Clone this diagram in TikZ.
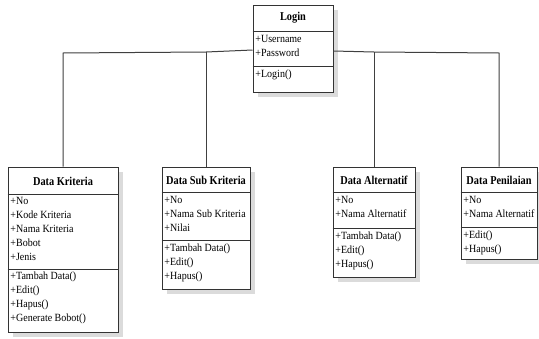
\documentclass[tikz,border=0pt]{standalone}
\usepackage{fontspec}
\setmainfont{Liberation Serif}
\usetikzlibrary{shadows}
\begin{document}
\begin{tikzpicture}[x=1pt,y=-1pt,
  classbox/.style={draw=black!80,line width=1pt,fill=white,rectangle,inner sep=0pt,
    drop shadow={shadow xshift=4.5pt,shadow yshift=-4.5pt,fill=black!14,opacity=1}},
  classtitle/.style={font=\fontsize{12}{14}\selectfont\bfseries,inner sep=0pt,
    transform shape,xscale=0.86},
  members/.style={font=\fontsize{11}{14}\selectfont,align=left,anchor=north west,
    inner xsep=2.5pt,inner ysep=3pt,transform shape,xscale=0.91},
  sep/.style={draw=black!80,line width=1pt},
  link/.style={draw=black!75,line width=1pt}]
\useasboundingbox[fill=white] (0,0) rectangle (539,338);

% Login class
\node[classbox,minimum width=80pt,minimum height=87pt] (login) at (293,48.5) {};
\node[classtitle] (login-t) at (293,18) {Login};
\draw[sep] (login.west |- 0,31) -- (login.east |- 0,31);
\draw[sep] (login.west |- 0,66) -- (login.east |- 0,66);
\node[members] (login-a) at (253,32) {+Username\\+Password};
\node[members] (login-m) at (253,67) {+Login()};

% Data Kriteria class
\node[classbox,minimum width=110pt,minimum height=165pt] (krit) at (63,249.5) {};
\node[classtitle] (krit-t) at (63,181) {Data Kriteria};
\draw[sep] (krit.west |- 0,194) -- (krit.east |- 0,194);
\draw[sep] (krit.west |- 0,269) -- (krit.east |- 0,269);
\node[members] (krit-a) at (8,194) {+No\\+Kode Kriteria\\+Nama Kriteria\\+Bobot\\+Jenis};
\node[members] (krit-m) at (8,269) {+Tambah Data()\\+Edit()\\+Hapus()\\+Generate Bobot()};

% Data Sub Kriteria class
\node[classbox,minimum width=88pt,minimum height=122pt] (sub) at (206,228) {};
\node[classtitle] (sub-t) at (206,180) {Data Sub Kriteria};
\draw[sep] (sub.west |- 0,192) -- (sub.east |- 0,192);
\draw[sep] (sub.west |- 0,240) -- (sub.east |- 0,240);
\node[members] (sub-a) at (162,193) {+No\\+Nama Sub Kriteria\\+Nilai};
\node[members] (sub-m) at (162,241) {+Tambah Data()\\+Edit()\\+Hapus()};

% Data Alternatif class
\node[classbox,minimum width=82pt,minimum height=110pt] (alt) at (374,222) {};
\node[classtitle] (alt-t) at (374,180) {Data Alternatif};
\draw[sep] (alt.west |- 0,192) -- (alt.east |- 0,192);
\draw[sep] (alt.west |- 0,228) -- (alt.east |- 0,228);
\node[members] (alt-a) at (333,193) {+No\\+Nama Alternatif};
\node[members] (alt-m) at (333,229) {+Tambah Data()\\+Edit()\\+Hapus()};

% Data Penilaian class
\node[classbox,minimum width=76pt,minimum height=92pt] (pen) at (499,213) {};
\node[classtitle] (pen-t) at (499,180) {Data Penilaian};
\draw[sep] (pen.west |- 0,192) -- (pen.east |- 0,192);
\draw[sep] (pen.west |- 0,227) -- (pen.east |- 0,227);
\node[members] (pen-a) at (461,193) {+No\\+Nama Alternatif};
\node[members] (pen-m) at (461,228) {+Edit()\\+Hapus()};

% associations from Login to the data classes
\coordinate (j1) at (krit.north |- 0,53);
\coordinate (j2) at (sub.north |- 0,52);
\coordinate (j3) at (alt.north |- 0,52);
\coordinate (j4) at (pen.north |- 0,53);
\draw[link] (login.west |- 0,50) -- (j2) -- (j1) -- (krit.north);
\draw[link] (j2) -- (sub.north);
\draw[link] (login.east |- 0,51) -- (j3) -- (j4) -- (pen.north);
\draw[link] (j3) -- (alt.north);
\end{tikzpicture}
\end{document}
